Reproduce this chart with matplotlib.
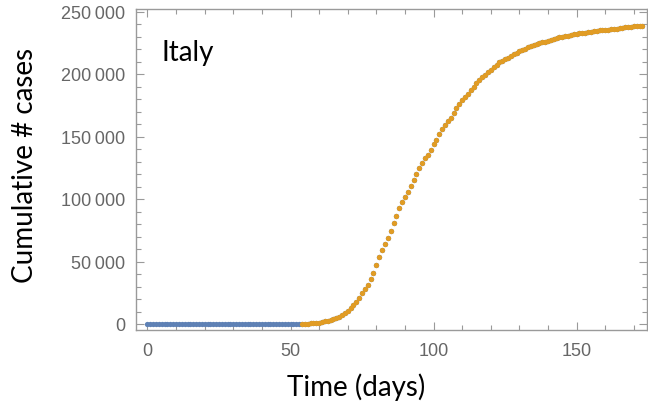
import matplotlib
matplotlib.use("Agg")
import matplotlib.pyplot as plt
from matplotlib.ticker import FuncFormatter, MultipleLocator

# Cumulative confirmed cases in Italy, one value per day (day 0 = first day shown)
cases = ([0] * 31 + [2] * 7 + [3] * 14 +
         [20, 62, 155, 229, 322, 453, 655, 888, 1128] +
         [1694, 2036, 2502, 3089, 3858, 4636, 5883, 7375, 9172, 10149,
          12462, 15113, 17660, 21157, 24747, 27980, 31506, 35713, 41035, 47021,
          53578, 59138, 63927, 69176, 74386, 80589, 86498, 92472, 97689, 101739,
          105792] +
         [110574, 115242, 119827, 124632, 128948, 132547, 135586, 139422, 143626, 147577,
          152271, 156363, 159516, 162488, 165155, 168941, 172434, 175925, 178972, 181228,
          183957, 187327, 189973, 192994, 195351, 197675, 199414, 201505, 203591, 205463] +
         [207428, 209328, 210717, 211938, 213013, 214457, 215858, 217185, 218268, 219070,
          219814, 221216, 222104, 223096, 223885, 224760, 225435, 225886, 226699, 227364,
          228006, 228658, 229327, 229858, 230158, 230555, 231139, 231732, 232248, 232664,
          232997] +
         [233197, 233515, 233836, 234013, 234531, 234801, 234998, 235278, 235561, 235763,
          236142, 236305, 236651, 236989, 237290, 237500, 237828, 238159, 238011, 238275,
          238499])
days = list(range(len(cases)))

# Highlighted (fitted) part of the series starts here
fit_start = 54
fit_days = days[fit_start:]
fit_cases = cases[fit_start:]

country = "Italy"
xlabel = "Time (days)"
ylabel = "Cumulative # cases"
xticks = [0, 50, 100, 150]
yticks = [0, 50000, 100000, 150000, 200000, 250000]

BLUE = "#5E81B5"
ORANGE = "#E19C24"
FRAME = "#9a9a9a"
TICKTXT = "#666666"

plt.rcParams["font.family"] = ["Liberation Sans", "DejaVu Sans"]
LABELFONT = ["Lato", "DejaVu Sans"]

fig = plt.figure(figsize=(6.48, 4.02), dpi=100)
ax = fig.add_axes([136 / 648, 1 - 331 / 402, 511 / 648, 321 / 402])

ax.plot(days, cases, "o", color=BLUE, ms=3.8, mew=0, zorder=2)
ax.plot(fit_days, fit_cases, "o", color=ORANGE, ms=3.8, mew=0, zorder=3)

ax.set_xlim(-4.0, 174.6)
ax.set_ylim(-4800, 252000)

ax.set_xticks(xticks)
ax.set_yticks(yticks)
ax.xaxis.set_minor_locator(MultipleLocator(10))
ax.yaxis.set_minor_locator(MultipleLocator(10000))
ax.yaxis.set_major_formatter(FuncFormatter(lambda v, p: f"{int(v):,}".replace(",", "\u2009")))

for s in ax.spines.values():
    s.set_color(FRAME)
    s.set_linewidth(1.0)

ax.tick_params(which="both", direction="in", top=True, right=True, color=FRAME,
               labelcolor=TICKTXT, labelsize=13)
ax.tick_params(which="major", length=6, width=0.8)
ax.tick_params(which="minor", length=3.5, width=0.8)
ax.tick_params(axis="x", pad=9)
ax.tick_params(axis="y", pad=8)

fig.text(356 / 648, 1 - 387 / 402, xlabel, fontsize=20, family=LABELFONT,
         ha="center", va="center", color="black")
fig.text(25 / 648, 1 - 165 / 402, ylabel, fontsize=20, family=LABELFONT,
         ha="center", va="center", rotation=90, color="black")

ax.text(0.05, 0.866, country, transform=ax.transAxes, fontsize=20,
        family=LABELFONT, va="center", ha="left", color="black")

fig.savefig("out.png", dpi=100)
